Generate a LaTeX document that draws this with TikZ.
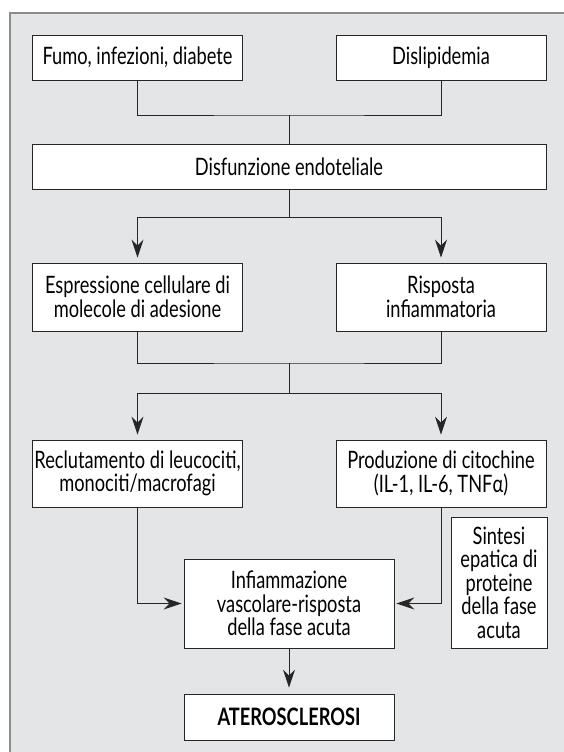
\documentclass[tikz,border=0pt]{standalone}
\usepackage{fontspec}
\setmainfont{Lato}[FakeStretch=0.76]
\usetikzlibrary{arrows.meta,positioning,calc}
\definecolor{panel}{HTML}{E4E5E7}
\definecolor{rim}{HTML}{8C8C8C}
\definecolor{ink}{HTML}{262626}

\begin{document}
\begin{tikzpicture}[x=1pt,y=-1pt,
    box/.style={draw=ink, fill=white, line width=0.9pt, align=center, inner sep=1pt,
      minimum width=210pt, font=\fontsize{24}{23.5}\selectfont},
    link/.style={draw=ink, line width=0.9pt},
    >={Stealth[length=18pt,width=12pt,inset=6pt]}]
      \useasboundingbox (0,0) rectangle (564,752);
      \clip (0,0) rectangle (564,752);
      % grey panel behind the chart
      \draw[rim, fill=panel, line width=2pt] (10,13) rectangle (600,800);
      % boxes with absolute coordinates
      \node[box, minimum height=45pt] (fumo) at (137.5,57.5) {Fumo, infezioni, diabete};
      \node[box, minimum height=45pt] (disli) at (441,57.5) {Dislipidemia};
      \node[box, minimum height=45pt, minimum width=514pt] (disf) at (289,166.5) {Disfunzione endoteliale};
      \node[box, minimum height=68pt] (espr) at (137.5,297) {Espressione cellulare di\\molecole di adesione};
      \node[box, minimum height=68pt] (risp) at (441,297) {Risposta\\infiammatoria};
      \node[box, minimum height=67pt] (recl) at (137.5,473.5) {Reclutamento di leucociti,\\monociti/macrofagi};
      \node[box, minimum height=67pt] (prod) at (441,473.5) {Produzione di citochine\\(IL-1, IL-6, TNFα)};
      \node[box, minimum width=96pt, minimum height=131pt] (sint) at (499,582.5) {Sintesi\\epatica di\\proteine\\della fase\\acuta};
      \node[box, minimum height=89pt] (infi) at (289,603.5) {Infiammazione\\vascolare-risposta\\della fase acuta};
      \node[box, minimum height=46pt, font=\fontsize{24}{23.5}\selectfont\bfseries] (ater) at (289,717) {ATEROSCLEROSI};
      % junction points
      \coordinate (j1) at (289,115);
      \coordinate (j2) at (289,217);
      \coordinate (j3) at (289,363);
      \coordinate (j4) at (289,393);
      % connectors
      \draw[link] (fumo.south) |- (j1) -| (disli.south);
      \draw[link] (j1) -- (disf.north);
      \draw[link] (disf.south) -- (j2);
      \draw[link, ->, shorten >=5pt] (j2) -| (espr.north);
      \draw[link, ->, shorten >=5pt] (j2) -| (risp.north);
      \draw[link] (espr.south) |- (j3) -| (risp.south);
      \draw[link] (j3) -- (j4);
      \draw[link, ->, shorten >=5pt] (j4) -| (recl.north);
      \draw[link, ->, shorten >=5pt] (j4) -| (prod.north);
      \draw[link, ->, shorten >=2pt] (recl.south) |- (infi.west);
      \draw[link, ->, shorten >=2pt] (prod.south) |- (infi.east);
      \draw[link, ->, shorten >=6pt] (infi.south) -- (ater.north);
    \end{tikzpicture}
\end{document}
